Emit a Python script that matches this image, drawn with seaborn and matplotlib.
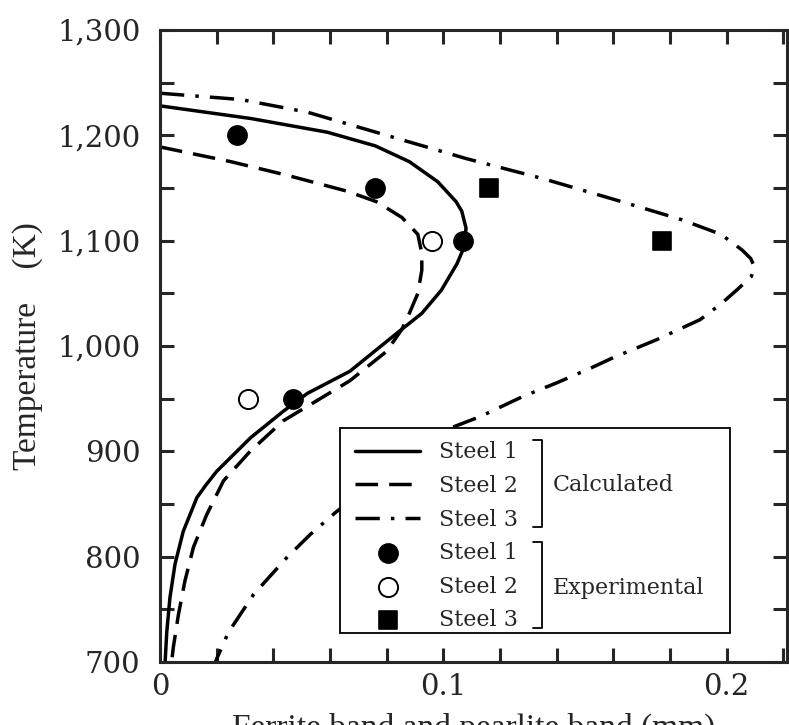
import matplotlib
matplotlib.use("Agg")
import matplotlib.pyplot as plt
import matplotlib.ticker as mticker
from matplotlib.patches import Rectangle
import seaborn as sns

# calculated curves: ferrite band value vs temperature
temp_s1 = [1228, 1222, 1216, 1203, 1190, 1175, 1156, 1137, 1128, 1112, 1103, 1090, 1078, 1053,
           1031, 1013, 976, 955, 938, 913, 881, 868, 856, 824, 793, 761, 729, 700]
band_s1 = [0.0, 0.016, 0.032, 0.059, 0.076, 0.088, 0.098, 0.1045, 0.1065, 0.108, 0.1077, 0.1067,
           0.1048, 0.0993, 0.0924, 0.084, 0.067, 0.052, 0.0435, 0.032, 0.020, 0.0162, 0.013,
           0.0082, 0.0053, 0.0035, 0.0024, 0.0018]

temp_s2 = [1189, 1175, 1162, 1147, 1137, 1122, 1106, 1088, 1072, 1050, 1031, 1016,
           995, 967, 948, 929, 900, 872, 840, 809, 777, 745, 714, 700]
band_s2 = [0.0, 0.025, 0.045, 0.066, 0.0764, 0.0854, 0.091, 0.0924, 0.0924, 0.091, 0.088, 0.0854,
           0.080, 0.067, 0.0553, 0.0435, 0.0318, 0.0224, 0.0165, 0.0118, 0.0088, 0.0065, 0.0047, 0.0041]

temp_s3 = [1240, 1234, 1222, 1200, 1178, 1159, 1137, 1120, 1106, 1091, 1083, 1075, 1066, 1053,
           1040, 1025, 1006, 989, 979, 965, 952, 933, 922, 884, 843, 821, 799, 764, 728, 703, 700]
band_s3 = [0.0, 0.0285, 0.052, 0.080, 0.108, 0.135, 0.163, 0.184, 0.198, 0.2055, 0.2085, 0.2098,
           0.2087, 0.2035, 0.198, 0.1906, 0.1753, 0.160, 0.152, 0.140, 0.128, 0.113, 0.1024, 0.083,
           0.0624, 0.053, 0.0447, 0.033, 0.0241, 0.020, 0.0196]

# experimental points
exp_t1 = [1200, 1150, 1100, 950]
exp_b1 = [0.027, 0.076, 0.107, 0.047]
exp_t2 = [1100, 950]
exp_b2 = [0.096, 0.031]
exp_t3 = [1150, 1100]
exp_b3 = [0.116, 0.177]

labels = ["Steel 1", "Steel 2", "Steel 3"]

sns.set_style("ticks")
plt.rcParams["font.family"] = ["DejaVu Serif"]

fig = plt.figure(figsize=(7.89, 7.25), dpi=100)
ax = fig.add_axes([0.2028, 0.0869, 0.7947, 0.8717])

lw = 2.5
sns.lineplot(x=band_s1, y=temp_s1, sort=False, estimator=None, color="black",
             linewidth=lw, ax=ax, label=labels[0])
sns.lineplot(x=band_s2, y=temp_s2, sort=False, estimator=None, color="black",
             linewidth=lw, linestyle=(0, (6.5, 3.2)), ax=ax, label=labels[1])
sns.lineplot(x=band_s3, y=temp_s3, sort=False, estimator=None, color="black",
             linewidth=lw, linestyle=(0, (7, 3.2, 1, 3.2)), ax=ax, label=labels[2])

sns.scatterplot(x=exp_b1, y=exp_t1, marker="o", s=190, color="black",
                edgecolor="black", linewidth=1.2, ax=ax, label=labels[0], zorder=3)
sns.scatterplot(x=exp_b2, y=exp_t2, marker="o", s=190, facecolor="white",
                edgecolor="black", linewidth=1.4, ax=ax, label=labels[1], zorder=3)
sns.scatterplot(x=exp_b3, y=exp_t3, marker="s", s=170, color="black",
                edgecolor="black", linewidth=1.2, ax=ax, label=labels[2], zorder=3)

ax.set_xlim(0, 0.2213)
ax.set_ylim(700, 1300)

ax.xaxis.set_major_locator(mticker.MultipleLocator(0.1))
ax.xaxis.set_minor_locator(mticker.MultipleLocator(0.02))
ax.xaxis.set_major_formatter(mticker.FuncFormatter(lambda v, p: "0" if abs(v) < 1e-9 else f"{v:g}"))
ax.yaxis.set_major_locator(mticker.MultipleLocator(100))
ax.yaxis.set_minor_locator(mticker.MultipleLocator(50))
ax.yaxis.set_major_formatter(mticker.FuncFormatter(lambda v, p: f"{v:,.0f}"))

for which in ("major", "minor"):
    ax.tick_params(which=which, direction="in", length=10, width=2.2,
                   top=True, right=True, labelsize=21)
ax.tick_params(axis="x", which="major", pad=8)
ax.tick_params(axis="y", which="major", pad=14)
for sp in ax.spines.values():
    sp.set_linewidth(2.2)

ax.set_ylabel("Temperature    (K)", fontsize=24, family="Liberation Serif", labelpad=10)
ax.set_xlabel("Ferrite band and pearlite band (mm)", fontsize=24, family="Liberation Serif")
ax.xaxis.set_label_coords(0.5, -0.081)

# legend with group brackets
ax.add_patch(Rectangle((0.287, 0.046), 0.622, 0.324, transform=ax.transAxes,
                       facecolor="white", edgecolor="black", linewidth=1.3, zorder=4))
handles, _ = ax.get_legend_handles_labels()
leg = ax.legend(handles, labels + labels, loc="upper left", bbox_to_anchor=(0.311, 0.349),
                frameon=False, fontsize=16, handlelength=2.93, handletextpad=0.85,
                labelspacing=0.52, borderpad=0, borderaxespad=0, markerscale=1.0)
leg.set_zorder(5)

for y0, y1, txt, ty in [(0.351, 0.2136, "Calculated", 0.280),
                        (0.190, 0.0538, "Experimental", 0.117)]:
    ax.plot([0.595, 0.609, 0.609, 0.595], [y0, y0, y1, y1], color="black", lw=1.3,
            transform=ax.transAxes, zorder=6, clip_on=False)
    ax.text(0.627, ty, txt, transform=ax.transAxes, fontsize=16, va="center",
            ha="left", zorder=6)

fig.savefig("out.png", dpi=100)
